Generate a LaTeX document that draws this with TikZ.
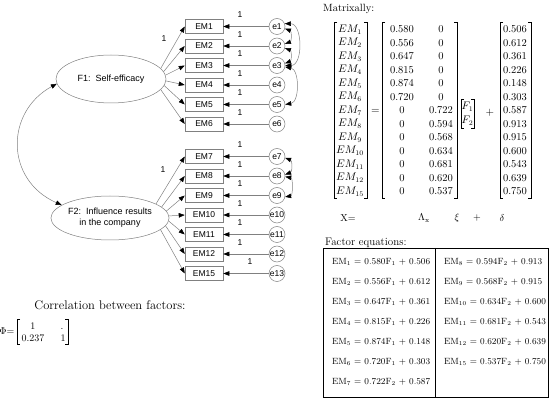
\documentclass[tikz,border=0pt]{standalone}
\usepackage{amsmath}
\usepackage{fontspec}
\newfontfamily\arialf{Liberation Sans}
\usetikzlibrary{shapes.geometric,arrows.meta}
\begin{document}
\begin{tikzpicture}[x=1pt,y=-1pt,
  >={Triangle[length=6pt,width=4.5pt,color=black]},
  obs/.style={draw=gray,line width=0.5pt,minimum width=38pt,minimum height=14pt,inner sep=0pt,font=\arialf\fontsize{8.5}{10}\selectfont},
  err/.style={draw=gray,line width=0.5pt,circle,minimum size=16pt,inner sep=0pt,font=\arialf\fontsize{8.5}{10}\selectfont},
  lat/.style={draw=gray,line width=0.5pt,ellipse,inner sep=0pt,align=center,font=\arialf\fontsize{9}{11}\selectfont},
  one/.style={font=\arialf\fontsize{8.5}{10}\selectfont,inner sep=0pt},
  lpath/.style={draw=gray,line width=0.5pt,->},
  cov/.style={draw=gray,line width=0.5pt,<->},
  br/.style={draw=black,line width=0.6pt},
  ent/.style={font=\fontsize{10.5}{12}\selectfont,inner sep=0pt},
  eqn/.style={font=\fontsize{9}{11}\selectfont,inner sep=0pt,anchor=west},
  ttl/.style={inner sep=0pt,anchor=west},
]
\useasboundingbox (0,0) rectangle (550,401);

% ---------------- path diagram ----------------
\node[lat,minimum width=110pt,minimum height=48pt] (F1) at (111,79) {F1:\ \ Self-efficacy};
\node[lat,minimum width=106pt,minimum height=44pt] (F2) at (110,218) {F2:\ \ Influence results\\in the company};

\foreach \n/\y/\e in {1/26.5/1,2/46/2,3/65.5/3,4/85/4,5/104.5/5,6/124/6,7/156.5/7,8/176/8,9/195.5/9,10/215/10,11/234.5/11,12/254/12,15/273.5/13}{
  \node[obs] (EM\n) at (204,\y) {EM\n};
  \node[err] (e\e) at (277,\y) {e\e};
  \draw[lpath] (e\e) -- (EM\n);
}
\foreach \n/\y in {1/26.5,2/46,3/65.5,4/85,5/104.5,6/124,7/156.5,8/176,9/195.5,10/215,11/234.5,12/254}{
  \node[one] (one\n) at (240,\y-11.5) {1};
}
\node[one] (one15) at (250,262) {1};

\foreach \n/\a in {1/12,2/8,3/4,4/-2,5/-7,6/-12}{\draw[lpath] (F1.\a) -- (EM\n.west);}
\foreach \n/\a in {7/17,8/12,9/7,10/2,11/-3,12/-8,15/-13}{\draw[lpath] (F2.\a) -- (EM\n.west);}
\node[one] (oneF1) at (164,38.5) {1};
\node[one] (oneF2) at (163,170) {1};

% factor covariance
\draw[cov] (F1.185) .. controls (5,112) and (5,180) .. (F2.165);

% error covariances
\draw[cov] (e1.-15) to[out=-20,in=20,looseness=1.2] (e2.15);
\draw[cov] (e2.-15) to[out=-20,in=20,looseness=1.2] (e3.15);
\draw[cov] (e1.20) to[out=0,in=0,looseness=1.1] (e3.0);
\draw[cov] (e3.-10) to[out=-10,in=10,looseness=1.0] (e5.0);
\draw[cov] (e7.-10) to[out=-20,in=20,looseness=1.2] (e8.10);
\draw[cov] (e8.-5) to[out=-10,in=10,looseness=1.0] (e9.-10);

% ---------------- correlation ----------------
\node[inner sep=0pt,font=\fontsize{12.5}{14}\selectfont] (corr) at (110,305) {Correlation between factors:};
\node[inner sep=0pt,font=\fontsize{10}{12}\selectfont] (phi) at (7,331) {$\Phi$=};
\draw[br] (20,319) -- (17,319) -- (17,344) -- (20,344);
\draw[br] (65,319) -- (68,319) -- (68,344) -- (65,344);
\node[ent,font=\fontsize{10}{12}\selectfont] (p11) at (33,326) {1};
\node[ent,font=\fontsize{10}{12}\selectfont,anchor=base] (p12) at (62,330) {.};
\node[ent,font=\fontsize{10}{12}\selectfont] (p21) at (33,338) {0.237};
\node[ent,font=\fontsize{10}{12}\selectfont] (p22) at (63,338) {1};

% ---------------- matrix form ----------------
\node[ttl,font=\fontsize{10.5}{12}\selectfont] (mtx) at (323,9) {Matrixally:};

\foreach \i/\lab/\a/\b/\d in {1/1/0.580/0/0.506,2/2/0.556/0/0.612,3/3/0.647/0/0.361,4/4/0.815/0/0.226,5/5/0.874/0/0.148,6/6/0.720/0/0.303,7/7/0/0.722/0.587,8/8/0/0.594/0.913,9/9/0/0.568/0.915,10/10/0/0.634/0.600,11/11/0/0.681/0.543,12/12/0/0.620/0.639,13/15/0/0.537/0.750}{
  \pgfmathsetmacro\yy{29.5+13.5*(\i-1)}
  \node[ent] (x\i) at (350,\yy) {$EM_{\lab}$};
  \node[ent] (la\i) at (402,\yy) {\a};
  \node[ent] (lb\i) at (441,\yy) {\b};
  \node[ent] (dl\i) at (515,\yy) {\d};
}
% brackets
\draw[br] (337,22) -- (334,22) -- (334,198) -- (337,198);
\draw[br] (364,22) -- (367,22) -- (367,198) -- (364,198);
\draw[br] (385,22) -- (382,22) -- (382,198) -- (385,198);
\draw[br] (454,22) -- (457,22) -- (457,198) -- (454,198);
\draw[br] (503,22) -- (500,22) -- (500,198) -- (503,198);
\draw[br] (528,22) -- (531,22) -- (531,198) -- (528,198);
\draw[br] (464,99) -- (461,99) -- (461,128) -- (464,128);
\draw[br] (471,99) -- (474,99) -- (474,128) -- (471,128);
\node[ent] (eqs) at (375.5,111) {$=$};
\node[ent] (f1) at (467.5,107) {$F_1$};
\node[ent] (f2) at (467.5,121) {$F_2$};
\node[ent] (pls) at (490,113) {$+$};

\node[ent,font=\fontsize{10}{12}\selectfont] (Xe) at (348,218) {X=};
\node[ent,font=\fontsize{10}{12}\selectfont] (Lx) at (424,218) {$\Lambda_{\mathrm{x}}$};
\node[ent,font=\fontsize{10}{12}\selectfont] (xi) at (457,218) {$\xi$};
\node[ent,font=\fontsize{10}{12}\selectfont] (pl2) at (477,218) {+};
\node[ent,font=\fontsize{10}{12}\selectfont] (de) at (502,218) {$\delta$};

% ---------------- factor equations ----------------
\node[ttl,font=\fontsize{11}{13}\selectfont] (feq) at (325,243) {Factor equations:};
\draw[line width=0.7pt] (323,248) rectangle (548,397);
\draw[line width=0.7pt] (435,248) -- (435,397);
\foreach \k/\t in {1/{EM\textsubscript{1} = 0.580F\textsubscript{1} + 0.506},
                   2/{EM\textsubscript{2} = 0.556F\textsubscript{1} + 0.612},
                   3/{EM\textsubscript{3} = 0.647F\textsubscript{1} + 0.361},
                   4/{EM\textsubscript{4} = 0.815F\textsubscript{1} + 0.226},
                   5/{EM\textsubscript{5} = 0.874F\textsubscript{1} + 0.148},
                   6/{EM\textsubscript{6} = 0.720F\textsubscript{1} + 0.303},
                   7/{EM\textsubscript{7} = 0.722F\textsubscript{2} + 0.587}}{
  \node[eqn] (eqL\k) at (332,{262+20*(\k-1)}) {\t};
}
\foreach \k/\t in {1/{EM\textsubscript{8} = 0.594F\textsubscript{2} + 0.913},
                   2/{EM\textsubscript{9} = 0.568F\textsubscript{2} + 0.915},
                   3/{EM\textsubscript{10} = 0.634F\textsubscript{2} + 0.600},
                   4/{EM\textsubscript{11} = 0.681F\textsubscript{2} + 0.543},
                   5/{EM\textsubscript{12} = 0.620F\textsubscript{2} + 0.639},
                   6/{EM\textsubscript{15} = 0.537F\textsubscript{2} + 0.750}}{
  \node[eqn] (eqR\k) at (444,{262+20*(\k-1)}) {\t};
}
\end{tikzpicture}
\end{document}
